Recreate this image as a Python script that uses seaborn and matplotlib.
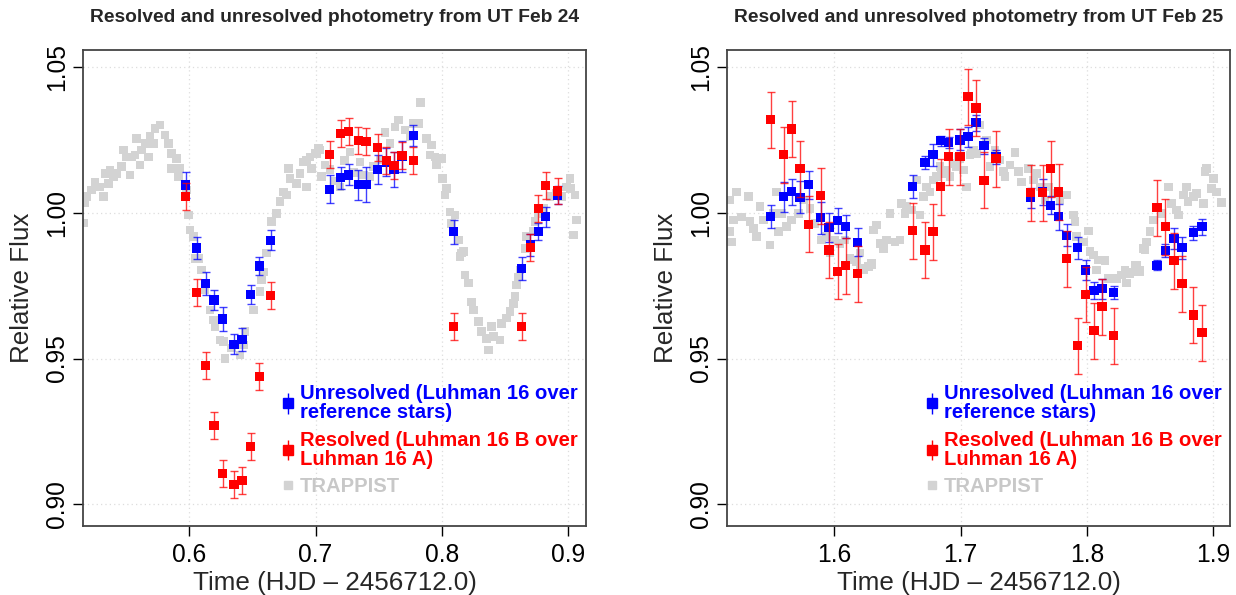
import matplotlib
matplotlib.use("Agg")
import matplotlib.pyplot as plt
import seaborn as sns
import numpy as np
from matplotlib.lines import Line2D

# ---------------- data: UT Feb 24 ----------------
t24 = [0.597, 0.606, 0.613, 0.6196, 0.6265, 0.6354, 0.6418, 0.6486, 0.6553, 0.6645,
       0.7113, 0.7200, 0.7263, 0.7337, 0.7400, 0.7493, 0.7559, 0.7622, 0.7685, 0.7773,
       0.8095, 0.8634, 0.8700, 0.8763, 0.8824, 0.8919]
unres24 = [1.0096, 0.9880, 0.9757, 0.9701, 0.9636, 0.9549, 0.9565, 0.9720, 0.9818, 0.9907,
           1.0082, 1.0121, 1.0131, 1.0097, 1.0097, 1.0149, 1.0175, 1.0151, 1.0195, 1.0265,
           0.9936, 0.9809, 0.9890, 0.9936, 0.9987, 1.0062]
unres24_err = [0.0046, 0.0038, 0.0040, 0.0035, 0.0040, 0.0034, 0.0039, 0.0032, 0.0030, 0.0035,
               0.0048, 0.0037, 0.0036, 0.0052, 0.0060, 0.0050, 0.0048, 0.0060, 0.0054, 0.0036,
               0.0041, 0.0040, 0.0038, 0.0030, 0.0034, 0.0030]
res24 = [1.0056, 0.9726, 0.9475, 0.9269, 0.9105, 0.9067, 0.9082, 0.9198, 0.9438, 0.9717,
         1.0200, 1.0272, 1.0279, 1.0248, 1.0245, 1.0224, 1.0180, 1.0164, 1.0197, 1.0180,
         0.9610, 0.9610, 0.9882, 1.0015, 1.0094, 1.0076]
res24_err = [0.0046, 0.0047, 0.0046, 0.0046, 0.0046, 0.0046, 0.0046, 0.0046, 0.0046, 0.0046,
             0.0046, 0.0046, 0.0046, 0.0046, 0.0046, 0.0046, 0.0046, 0.0046, 0.0046, 0.0046,
             0.0046, 0.0046, 0.0046, 0.0046, 0.0046, 0.0046]

trap24_t = [0.5166, 0.5174, 0.5187, 0.5227, 0.5253, 0.5293, 0.5319, 0.5332, 0.5372, 0.5358,
            0.5398, 0.5425, 0.5465, 0.5477, 0.5504, 0.5530, 0.5544, 0.5570, 0.5583, 0.5610,
            0.5623, 0.5649, 0.5675, 0.5689, 0.5715, 0.5728, 0.5768, 0.5808, 0.5834, 0.5861,
            0.5900, 0.5861, 0.5926, 0.5913, 0.5979, 0.5992, 0.6006, 0.6032, 0.6045, 0.6071,
            0.6098, 0.6124, 0.6164, 0.6190, 0.6204, 0.6243, 0.6269, 0.6283, 0.6336, 0.6402,
            0.6428, 0.6441, 0.6507, 0.6560, 0.6573, 0.6586, 0.6613, 0.6653, 0.6692, 0.6718,
            0.6744, 0.6771, 0.6784, 0.6798, 0.6851, 0.6877, 0.6903, 0.6930, 0.6930, 0.6956,
            0.6969, 0.6996, 0.7009, 0.7022, 0.7036, 0.7049, 0.7075, 0.7115, 0.7160, 0.7194,
            0.7230, 0.7273, 0.7300, 0.7352, 0.7380, 0.7432, 0.7460, 0.7511, 0.7550, 0.7590,
            0.7629, 0.7655, 0.7708, 0.7748, 0.7774, 0.7814, 0.7833, 0.7880, 0.7920, 0.7906,
            0.7946, 0.7959, 0.7999, 0.8007, 0.8039, 0.8025, 0.8065, 0.8105, 0.8078, 0.8131,
            0.8171, 0.8145, 0.8158, 0.8184, 0.8211, 0.8237, 0.8250, 0.8289, 0.8316, 0.8355,
            0.8368, 0.8395, 0.8408, 0.8461, 0.8474, 0.8514, 0.8540, 0.8566, 0.8580, 0.8593,
            0.8606, 0.8619, 0.8659, 0.8672, 0.8724, 0.8738, 0.8764, 0.8804, 0.8857, 0.8910,
            0.8949, 0.8989, 0.9015, 0.9021, 0.9055, 0.9068, 0.9041]
trap24_f = [0.9966, 1.0034, 1.0056, 1.0079, 1.0107, 1.0090, 1.0056, 1.0136, 1.0148, 1.0102,
            1.0125, 1.0136, 1.0159, 1.0216, 1.0193, 1.0130, 1.0193, 1.0199, 1.0256, 1.0165,
            1.0216, 1.0239, 1.0193, 1.0262, 1.0239, 1.0291, 1.0302, 1.0268, 1.0239, 1.0205,
            1.0188, 1.0153, 1.0153, 1.0125, 1.0079, 0.9993, 0.9942, 0.9919, 0.9844, 0.9844,
            0.9804, 0.9736, 0.9667, 0.9633, 0.9610, 0.9564, 0.9558, 0.9501, 0.9536, 0.9513,
            0.9547, 0.9593, 0.9667, 0.9730, 0.9770, 0.9798, 0.9862, 0.9970, 0.9999, 1.0039,
            1.0073, 1.0062, 1.0153, 1.0119, 1.0102, 1.0136, 1.0176, 1.0090, 1.0182, 1.0193,
            1.0153, 1.0205, 1.0205, 1.0222, 1.0216, 1.0125, 1.0165, 1.0150, 1.0110, 1.0090,
            1.0180, 1.0210, 1.0140, 1.0176, 1.0130, 1.0125, 1.0160, 1.0182, 1.0276, 1.0239,
            1.0296, 1.0319, 1.0285, 1.0262, 1.0308, 1.0308, 1.0379, 1.0256, 1.0233, 1.0199,
            1.0193, 1.0165, 1.0188, 1.0119, 1.0085, 1.0062, 1.0004, 0.9993, 0.9965, 0.9907,
            0.9867, 0.9850, 0.9862, 0.9787, 0.9759, 0.9695, 0.9667, 0.9627, 0.9593, 0.9570,
            0.9530, 0.9610, 0.9575, 0.9564, 0.9621, 0.9639, 0.9661, 0.9690, 0.9713, 0.9753,
            0.9781, 0.9804, 0.9879, 0.9919, 0.9936, 0.9970, 0.9999, 1.0016, 1.0056, 1.0068,
            1.0056, 1.0090, 1.0119, 1.0085, 1.0062, 0.9976, 0.9924]

# ---------------- data: UT Feb 25 ----------------
t25 = [1.5496, 1.5599, 1.5663, 1.5728, 1.5797, 1.5892, 1.5958, 1.6027, 1.6090, 1.6185,
       1.6621, 1.6718, 1.6782, 1.6843, 1.6906, 1.6996, 1.7059, 1.7122, 1.7186, 1.7281,
       1.7555, 1.7650, 1.7714, 1.7777, 1.7841, 1.7928, 1.7991, 1.8057, 1.8120, 1.8213,
       1.8556, 1.8622, 1.8690, 1.8754, 1.8843, 1.8912]
unres25 = [0.9987, 1.0056, 1.0073, 1.0054, 1.0097, 0.9984, 0.9950, 0.9974, 0.9954, 0.9899,
           1.0090, 1.0174, 1.0200, 1.0248, 1.0243, 1.0251, 1.0262, 1.0310, 1.0231, 1.0193,
           1.0053, 1.0073, 1.0027, 0.9987, 0.9924, 0.9881, 0.9804, 0.9733, 0.9740, 0.9726,
           0.9821, 0.9871, 0.9912, 0.9881, 0.9932, 0.9953]
unres25_err = [0.0040, 0.0052, 0.0045, 0.0055, 0.0048, 0.0055, 0.0050, 0.0043, 0.0040, 0.0048,
               0.0040, 0.0022, 0.0037, 0.0017, 0.0018, 0.0036, 0.0034, 0.0027, 0.0028, 0.0025,
               0.0034, 0.0045, 0.0030, 0.0045, 0.0038, 0.0038, 0.0035, 0.0030, 0.0035, 0.0022,
               0.0017, 0.0022, 0.0035, 0.0038, 0.0023, 0.0027]
res25 = [1.0320, 1.0200, 1.0289, 1.0152, 0.9961, 1.0059, 0.9873, 0.9799, 0.9819, 0.9792,
         0.9939, 0.9873, 0.9936, 1.0090, 1.0193, 1.0193, 1.0399, 1.0361, 1.0113, 1.0186,
         1.0070, 1.0070, 1.0152, 1.0072, 0.9843, 0.9544, 0.9720, 0.9596, 0.9678, 0.9579,
         1.0018, 0.9953, 0.9836, 0.9757, 0.9650, 0.9589]
res25_err = [0.0096, 0.0096, 0.0096, 0.0096, 0.0096, 0.0096, 0.0096, 0.0096, 0.0096, 0.0096,
             0.0096, 0.0096, 0.0096, 0.0096, 0.0096, 0.0096, 0.0096, 0.0096, 0.0096, 0.0096,
             0.0096, 0.0096, 0.0096, 0.0096, 0.0096, 0.0096, 0.0096, 0.0096, 0.0096, 0.0096,
             0.0096, 0.0096, 0.0096, 0.0096, 0.0096, 0.0096]

trap25_t = [1.5174, 1.5227, 1.5200, 1.5187, 1.5174, 1.5267, 1.5319, 1.5332, 1.5359, 1.5385,
            1.5411, 1.5438, 1.5491, 1.5517, 1.5544, 1.5557, 1.5583, 1.5623, 1.5663, 1.5715,
            1.5755, 1.5808, 1.5847, 1.5900, 1.5940, 1.5966, 1.6006, 1.6045, 1.6085, 1.6124,
            1.6150, 1.6177, 1.6204, 1.6204, 1.6230, 1.6269, 1.6296, 1.6296, 1.6309, 1.6336,
            1.6362, 1.6388, 1.6415, 1.6441, 1.6481, 1.6520, 1.6534, 1.6560, 1.6573, 1.6613,
            1.6653, 1.6679, 1.6705, 1.6732, 1.6758, 1.6784, 1.6811, 1.6837, 1.6851, 1.6890,
            1.6916, 1.6943, 1.6969, 1.6982, 1.6996, 1.7022, 1.7049, 1.7075, 1.7088, 1.7101,
            1.7128, 1.7154, 1.7207, 1.7233, 1.7273, 1.7312, 1.7339, 1.7352, 1.7392, 1.7431,
            1.7457, 1.7484, 1.7537, 1.7576, 1.7603, 1.7629, 1.7669, 1.7695, 1.7735, 1.7788,
            1.7841, 1.7894, 1.7907, 1.7920, 1.7973, 1.8012, 1.8026, 1.8052, 1.8078, 1.8091,
            1.8131, 1.8144, 1.8170, 1.8237, 1.8276, 1.8302, 1.8316, 1.8342, 1.8356, 1.8381,
            1.8395, 1.8421, 1.8421, 1.8447, 1.8461, 1.8474, 1.8500, 1.8526, 1.8593, 1.8645,
            1.8672, 1.8712, 1.8724, 1.8764, 1.8791, 1.8803, 1.8843, 1.8870, 1.8922, 1.8936,
            1.8949, 1.8989, 1.9002, 1.9028, 1.9068]
trap25_f = [1.0045, 1.0073, 0.9976, 0.9901, 0.9936, 0.9987, 1.0056, 0.9970, 0.9947, 0.9919,
            1.0022, 0.9976, 0.9890, 0.9999, 1.0073, 0.9936, 0.9999, 0.9953, 0.9976, 0.9999,
            1.0045, 1.0016, 0.9965, 0.9907, 0.9919, 0.9862, 0.9907, 0.9896, 0.9907, 0.9844,
            0.9839, 0.9833, 0.9862, 0.9810, 0.9804, 0.9816, 0.9827, 0.9821, 0.9942, 0.9959,
            0.9896, 0.9879, 0.9907, 0.9999, 0.9901, 0.9907, 1.0033, 0.9999, 1.0022, 1.0010,
            1.0113, 0.9993, 1.0056, 1.0090, 1.0073, 1.0113, 1.0125, 1.0159, 1.0136, 1.0148,
            1.0125, 1.0171, 1.0159, 1.0193, 1.0188, 1.0148, 1.0090, 1.0199, 1.0205, 1.0216,
            1.0205, 1.0302, 1.0251, 1.0159, 1.0216, 1.0182, 1.0142, 1.0125, 1.0165, 1.0207,
            1.0142, 1.0107, 1.0153, 1.0113, 1.0136, 1.0090, 1.0045, 1.0090, 1.0068, 1.0045,
            1.0062, 0.9993, 0.9970, 0.9919, 0.9901, 0.9938, 0.9867, 0.9856, 0.9804, 0.9839,
            0.9839, 0.9836, 0.9776, 0.9776, 0.9787, 0.9802, 0.9759, 0.9793, 0.9798, 0.9821,
            0.9821, 0.9804, 0.9798, 0.9879, 0.9873, 0.9901, 0.9936, 0.9976, 0.9999, 1.0090,
            1.0033, 1.0010, 0.9993, 1.0062, 1.0090, 1.0039, 1.0056, 1.0068, 1.0033, 1.0142,
            1.0153, 1.0085, 1.0119, 1.0073, 1.0037]

yticks = [0.90, 0.95, 1.00, 1.05]
xticks24 = [0.6, 0.7, 0.8, 0.9]
xticks25 = [1.6, 1.7, 1.8, 1.9]
titles = ["Resolved and unresolved photometry from UT Feb 24",
          "Resolved and unresolved photometry from UT Feb 25"]
labels = ["Unresolved (Luhman 16 over\nreference stars)",
          "Resolved (Luhman 16 B over\nLuhman 16 A)",
          "TRAPPIST"]

# ---------------- style ----------------
sns.set_theme(style="white")
plt.rcParams['font.family'] = ['Liberation Sans', 'DejaVu Sans']

BLUE = "#0000FF"
RED = "#FF0000"
GRAY = "#D3D3D3"

fig = plt.figure(figsize=(12.36, 5.95), dpi=100)
axL = fig.add_axes([83/1236, 69/595, 503/1236, 476/595])
axR = fig.add_axes([727/1236, 69/595, 503/1236, 476/595])

panels = [
    (axL, t24, unres24, unres24_err, res24, res24_err, trap24_t, trap24_f, xticks24, (0.5158, 0.9142), titles[0]),
    (axR, t25, unres25, unres25_err, res25, res25_err, trap25_t, trap25_f, xticks25, (1.5150, 1.9134), titles[1]),
]

for ax, t, u, ue, r, re_, tt, tf, xt, xl, title in panels:
    ax.set_facecolor("white")
    for v in yticks:
        ax.axhline(v, color="#DDDDDD", lw=0.9, ls=(0, (1, 2.5)), zorder=0)
    for v in xt:
        ax.axvline(v, color="#DDDDDD", lw=0.9, ls=(0, (1, 2.5)), zorder=0)
    sns.scatterplot(x=tt, y=tf, ax=ax, color=GRAY, marker="s", s=38,
                    edgecolor="none", linewidth=0, zorder=1, legend=False)
    ax.errorbar(t, u, yerr=ue, fmt="none", ecolor=BLUE, elinewidth=1.0,
                capsize=3.2, capthick=1.0, alpha=0.75, zorder=2)
    sns.scatterplot(x=t, y=u, ax=ax, color=BLUE, marker="s", s=44,
                    edgecolor="none", linewidth=0, zorder=3, legend=False)
    ax.errorbar(t, r, yerr=re_, fmt="none", ecolor=RED, elinewidth=1.0,
                capsize=3.2, capthick=1.0, alpha=0.75, zorder=4)
    sns.scatterplot(x=t, y=r, ax=ax, color=RED, marker="s", s=44,
                    edgecolor="none", linewidth=0, zorder=5, legend=False)

    ax.set_xlim(*xl)
    ax.set_ylim(0.8925, 1.056)
    ax.set_xticks(xt)
    ax.set_xticklabels([f"{v:.1f}" for v in xt])
    ax.set_yticks(yticks)
    ax.set_yticklabels([f"{v:.2f}" for v in yticks], rotation=90, va="center")
    ax.tick_params(axis="both", which="both", direction="out", length=7, width=1,
                   colors="black", labelsize=17.7, left=True, bottom=True)
    ax.tick_params(axis="y", pad=3)
    ax.tick_params(axis="x", pad=5)
    for s in ax.spines.values():
        s.set_visible(True)
        s.set_color("#444444")
        s.set_linewidth(1.3)
    ax.set_xlabel("Time (HJD \u2013 2456712.0)", fontsize=18.7, labelpad=3)
    ax.set_ylabel("Relative Flux", fontsize=18.7, labelpad=8)
    ax.set_title(title, fontsize=13.9, fontweight="bold", pad=20)

    # legend
    h_u = ax.errorbar([], [], yerr=[], fmt="s", color=BLUE, ms=7, capsize=3.2, elinewidth=1)
    h_r = ax.errorbar([], [], yerr=[], fmt="s", color=RED, ms=7, capsize=3.2, elinewidth=1)
    h_t = Line2D([], [], ls="none", marker="s", color=GRAY, ms=6)
    leg = ax.legend([h_u, h_r, h_t], labels, loc="upper left",
                    bbox_to_anchor=(0.395, 0.299), frameon=False,
                    prop={"weight": "bold", "size": 14.6, "family": "Liberation Sans"},
                    labelcolor=[BLUE, RED, "#C8C8C8"], handlelength=0.6,
                    handletextpad=0.3, labelspacing=0.4, borderaxespad=0,
                    borderpad=0)
    for txt in leg.get_texts():
        txt.set_linespacing(1.05)

fig.savefig("out.png", dpi=100)
